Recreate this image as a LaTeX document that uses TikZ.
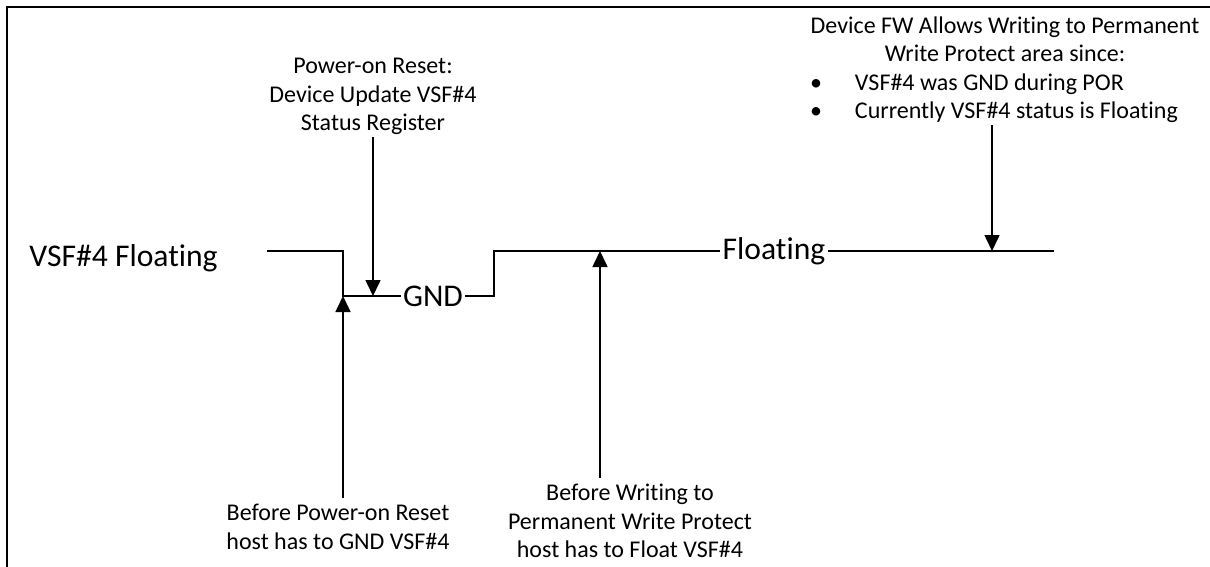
\documentclass[tikz,border=0pt]{standalone}
\usepackage{fontspec}
\setmainfont{Carlito}[Ligatures={NoCommon,NoContextual}]
\usetikzlibrary{arrows.meta}
\newcommand{\fwitem}[1]{\makebox[195pt][l]{\makebox[22.5pt][l]{\textbullet}#1}}
\tikzset{
  wave/.style={line width=0.75pt},
  pointer/.style={->, line width=0.8pt},
  note/.style={font=\fontsize{12}{14.2}\selectfont, align=center, inner sep=1pt},
  level/.style={font=\fontsize{15.8}{18}\selectfont, inner sep=1pt}
}
\begin{document}
\begin{tikzpicture}[x=0.5pt, y=-0.5pt, >={Triangle[length=8pt,width=7.5pt]}, line join=miter]
  \useasboundingbox (0,0) rectangle (1210,567);
  % frame
  \draw[line width=1pt] (7,567) -- (7,7) -- (1210,7);
  % signal
  \node[level, anchor=base west, inner sep=0pt] (name) at (29,266) {VSF\#4 Floating};
  \coordinate (w0) at (267,251);
  \coordinate (w1) at (343,251);
  \coordinate (w2) at (343,296);
  \node[level] (gnd) at (433,296) {GND};
  \coordinate (w3) at (494,296);
  \coordinate (w4) at (494,251);
  \node[level] (flt) at (774,251) {Floating};
  \coordinate (w5) at (1054,251);
  \draw[wave] (w0) -- (w1) -- (w2) -- (gnd) -- (w3) -- (w4) -- (flt) -- (w5);
  % notes and pointers
  \node[note, anchor=south] (por) at (373,137) {Power-on Reset:\\Device Update VSF\#4\\Status Register};
  \coordinate (porhit) at (373,296);
  \draw[pointer] (por.south -| porhit) -- (porhit);
  \node[note, anchor=north, inner sep=3pt] (hostgnd) at (338,498) {Before Power-on Reset\\host has to GND VSF\#4};
  \coordinate (gndhit) at (343,296);
  \draw[pointer] (hostgnd.north -| gndhit) -- (gndhit);
  \node[note, anchor=north, inner sep=3pt] (hostflt) at (630,478) {Before Writing to\\Permanent Write Protect\\host has to Float VSF\#4};
  \coordinate (flthit) at (600,251);
  \draw[pointer] (hostflt.north -| flthit) -- (flthit);
  \node[note, anchor=south] (fw) at (1005,125) {Device FW Allows Writing to Permanent\\Write Protect area since:\\\fwitem{VSF\#4 was GND during POR}\\\fwitem{Currently VSF\#4 status is Floating}};
  \coordinate (fwhit) at (992,251);
  \draw[pointer] (fw.south -| fwhit) -- (fwhit);
\end{tikzpicture}
\end{document}
